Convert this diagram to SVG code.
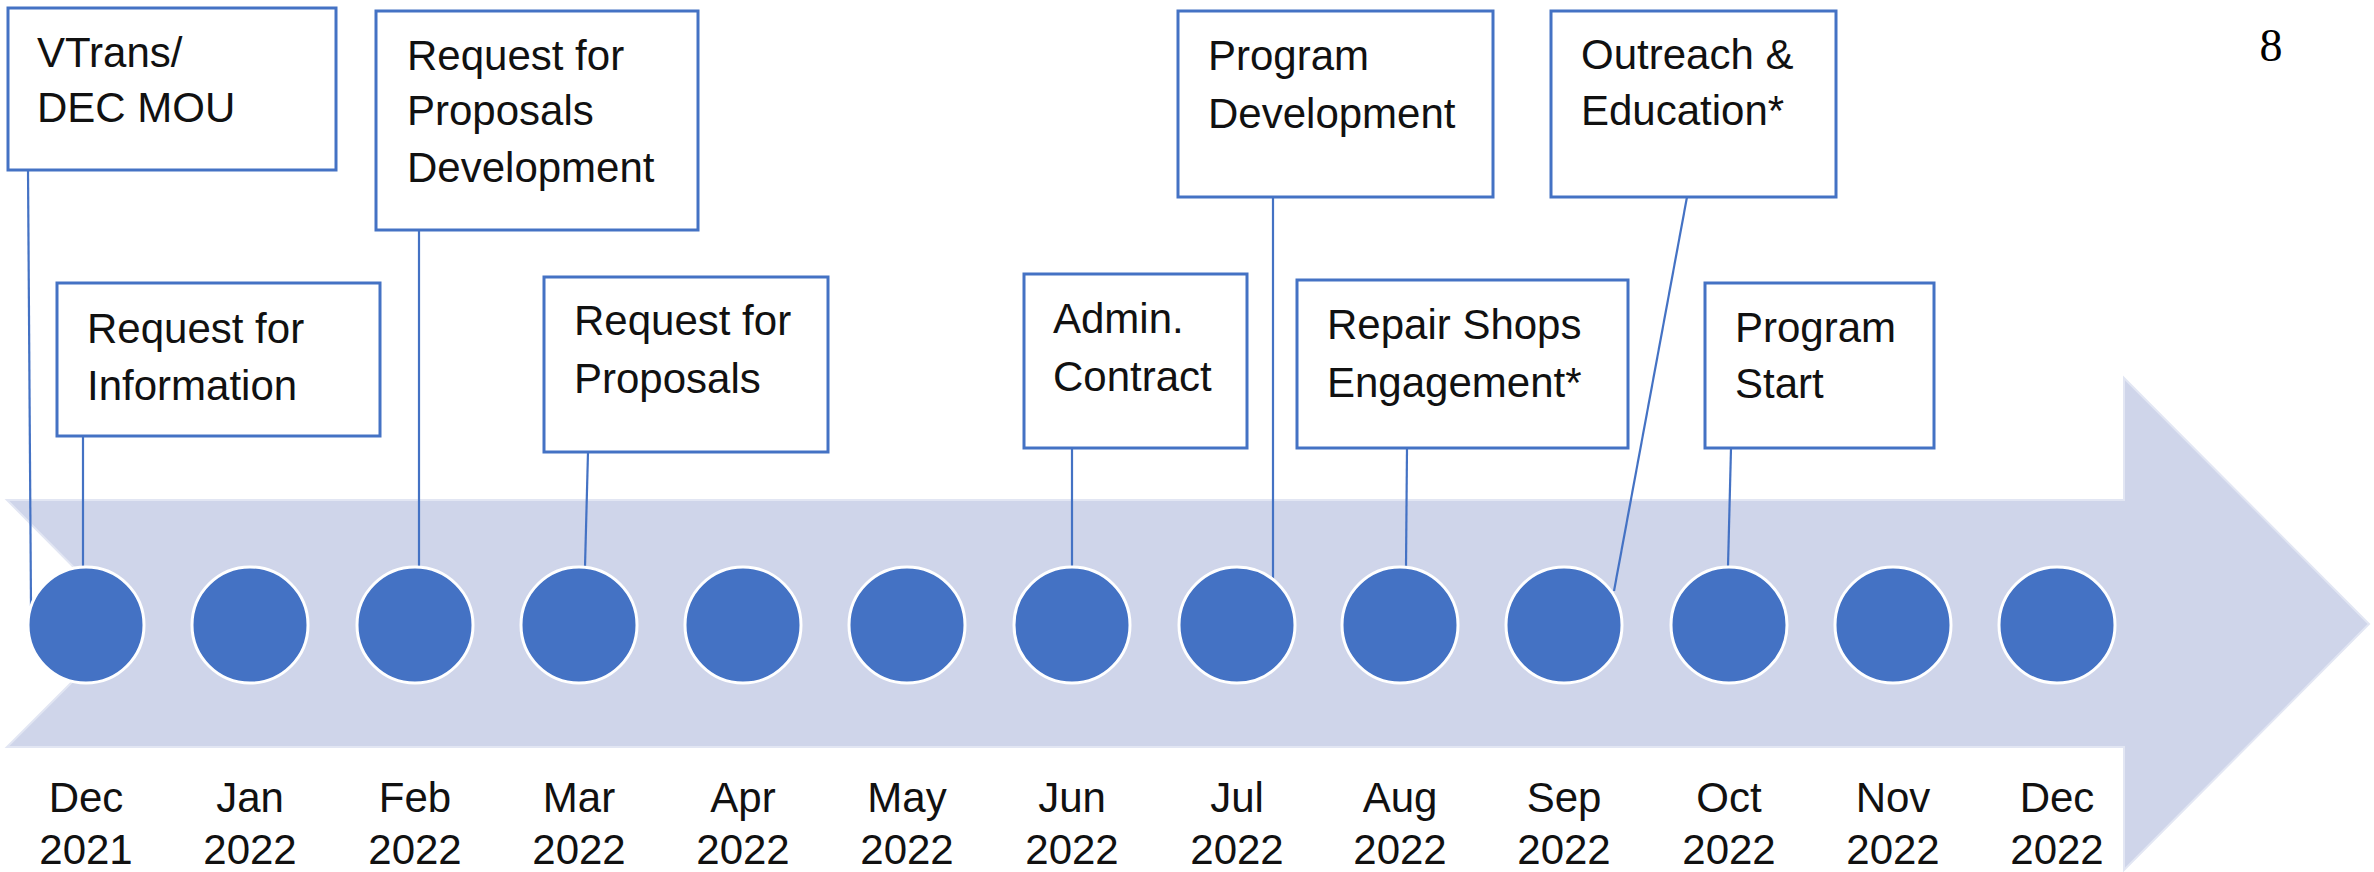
<svg xmlns="http://www.w3.org/2000/svg" width="2374" height="872" viewBox="0 0 2374 872">
<style>
.box{fill:#fff;stroke:#4472C4;stroke-width:3}
.t{font-family:"Liberation Sans",Arial,sans-serif;font-size:42px;fill:#111}
.m{font-family:"Liberation Sans",Arial,sans-serif;font-size:42px;fill:#111;text-anchor:middle}
.dot{fill:#4472C4;stroke:#fff;stroke-width:3}
.con line{stroke:#4472C4;stroke-width:2.2}
</style>
<rect width="2374" height="872" fill="#fff"/>
<g id="timeline-arrow">
<polygon points="7,500 2124,500 2124,378 2369,624 2124,870 2124,747 7,747 130,624" fill="#CFD5EA" stroke="#E2E6F3" stroke-width="2"/>
</g>
<g id="connectors" class="con">
<line x1="28" y1="170" x2="31" y2="606"/>
<line x1="83" y1="436" x2="83" y2="567"/>
<line x1="419" y1="230" x2="419" y2="567"/>
<line x1="588" y1="452" x2="585" y2="567"/>
<line x1="1072" y1="448" x2="1072" y2="567"/>
<line x1="1273" y1="197" x2="1273" y2="579"/>
<line x1="1407" y1="448" x2="1406" y2="567"/>
<line x1="1687" y1="197" x2="1614" y2="591"/>
<line x1="1731" y1="448" x2="1728" y2="567"/>
</g>
<g id="months">
<circle class="dot" cx="86" cy="625" r="58"/>
<circle class="dot" cx="250" cy="625" r="58"/>
<circle class="dot" cx="415" cy="625" r="58"/>
<circle class="dot" cx="579" cy="625" r="58"/>
<circle class="dot" cx="743" cy="625" r="58"/>
<circle class="dot" cx="907" cy="625" r="58"/>
<circle class="dot" cx="1072" cy="625" r="58"/>
<circle class="dot" cx="1237" cy="625" r="58"/>
<circle class="dot" cx="1400" cy="625" r="58"/>
<circle class="dot" cx="1564" cy="625" r="58"/>
<circle class="dot" cx="1729" cy="625" r="58"/>
<circle class="dot" cx="1893" cy="625" r="58"/>
<circle class="dot" cx="2057" cy="625" r="58"/>
</g>
<g id="month-labels">
<text class="m" x="86" y="812">Dec</text><text class="m" x="86" y="864">2021</text>
<text class="m" x="250" y="812">Jan</text><text class="m" x="250" y="864">2022</text>
<text class="m" x="415" y="812">Feb</text><text class="m" x="415" y="864">2022</text>
<text class="m" x="579" y="812">Mar</text><text class="m" x="579" y="864">2022</text>
<text class="m" x="743" y="812">Apr</text><text class="m" x="743" y="864">2022</text>
<text class="m" x="907" y="812">May</text><text class="m" x="907" y="864">2022</text>
<text class="m" x="1072" y="812">Jun</text><text class="m" x="1072" y="864">2022</text>
<text class="m" x="1237" y="812">Jul</text><text class="m" x="1237" y="864">2022</text>
<text class="m" x="1400" y="812">Aug</text><text class="m" x="1400" y="864">2022</text>
<text class="m" x="1564" y="812">Sep</text><text class="m" x="1564" y="864">2022</text>
<text class="m" x="1729" y="812">Oct</text><text class="m" x="1729" y="864">2022</text>
<text class="m" x="1893" y="812">Nov</text><text class="m" x="1893" y="864">2022</text>
<text class="m" x="2057" y="812">Dec</text><text class="m" x="2057" y="864">2022</text>
</g>
<g id="n-vtrans"><rect class="box" x="8" y="8" width="328" height="162"/><text class="t" x="37" y="67">VTrans/</text><text class="t" x="37" y="122">DEC MOU</text></g>
<g id="n-rfi"><rect class="box" x="57" y="283" width="323" height="153"/><text class="t" x="87" y="343">Request for</text><text class="t" x="87" y="400">Information</text></g>
<g id="n-rfpdev"><rect class="box" x="376" y="11" width="322" height="219"/><text class="t" x="407" y="70">Request for</text><text class="t" x="407" y="125">Proposals</text><text class="t" x="407" y="182">Development</text></g>
<g id="n-rfp"><rect class="box" x="544" y="277" width="284" height="175"/><text class="t" x="574" y="335">Request for</text><text class="t" x="574" y="393">Proposals</text></g>
<g id="n-admin"><rect class="box" x="1024" y="274" width="223" height="174"/><text class="t" x="1053" y="333">Admin.</text><text class="t" x="1053" y="391">Contract</text></g>
<g id="n-progdev"><rect class="box" x="1178" y="11" width="315" height="186"/><text class="t" x="1208" y="70">Program</text><text class="t" x="1208" y="128">Development</text></g>
<g id="n-repair"><rect class="box" x="1297" y="280" width="331" height="168"/><text class="t" x="1327" y="339">Repair Shops</text><text class="t" x="1327" y="397">Engagement*</text></g>
<g id="n-outreach"><rect class="box" x="1551" y="11" width="285" height="186"/><text class="t" x="1581" y="69">Outreach &amp;</text><text class="t" x="1581" y="125">Education*</text></g>
<g id="n-start"><rect class="box" x="1705" y="283" width="229" height="165"/><text class="t" x="1735" y="342">Program</text><text class="t" x="1735" y="398">Start</text></g>
<text x="2271" y="61" font-family="'Liberation Serif','Times New Roman',serif" font-size="46" text-anchor="middle" fill="#000">8</text>
</svg>
